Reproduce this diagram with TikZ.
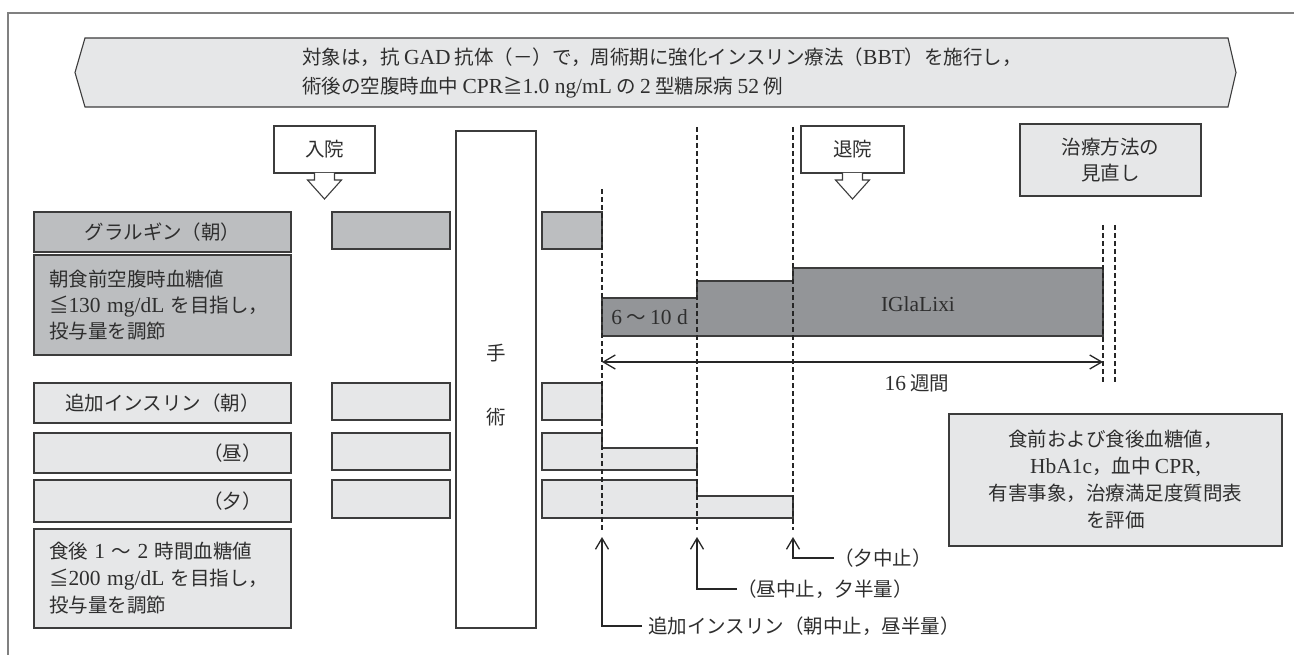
\documentclass[tikz,border=0pt]{standalone}
\usepackage{fontspec}
\setmainfont{Noto Sans CJK JP}
\newfontfamily\latf[Scale=1.1]{Liberation Serif}
\newcommand\ltn[1]{{\latf #1}}
\usetikzlibrary{arrows.meta,calc}
\definecolor{lightC}{HTML}{E6E7E8}
\definecolor{midC}{HTML}{BCBEC0}
\definecolor{darkC}{HTML}{939598}
\definecolor{lineC}{HTML}{3C3C3C}
\definecolor{txtC}{HTML}{2E2E2E}
\definecolor{frameC}{HTML}{808080}
\tikzset{
  bx/.style={draw=lineC, line width=1.1pt, inner sep=0pt, outer sep=0pt, anchor=north west},
  ltbox/.style={bx, fill=lightC},
  mdbox/.style={bx, fill=midC},
  whbox/.style={bx, fill=white},
  vdash/.style={draw=black!85, line width=1.4pt, dash pattern=on 5pt off 3pt},
  ann/.style={draw=black!85, line width=1.4pt, -{Straight Barb[length=11pt,width=13pt,line width=1.3pt]}},
  dbl/.style={draw=black!85, line width=1.4pt, {Straight Barb[length=12pt,width=14pt,line width=1.3pt]}-{Straight Barb[length=12pt,width=14pt,line width=1.3pt]}},
  callarrow/.style={draw=lineC, line width=1.1pt, fill=white},
}
\begin{document}
\begin{tikzpicture}[x=1pt,y=-1pt, font=\fontsize{19.5}{26}\selectfont, text=txtC]
\useasboundingbox (0,0) rectangle (1294,655);
% frame
\draw[frameC, line width=1.5pt] (8,655) -- (8,13) -- (1294,13);
% banner
\draw[lineC, line width=1.1pt, fill=lightC] (85,38) -- (1228,38) -- (1236,72.5) -- (1228,107) -- (85,107) -- (75,72.5) -- cycle;
\node[align=left, anchor=west, inner sep=0pt, font=\fontsize{19.5}{29}\selectfont] (banner) at (302,72.5)
 {対象は，抗 \ltn{GAD} 抗体（－）で，周術期に強化インスリン療法（\ltn{BBT}）を施行し，\\術後の空腹時血中 \ltn{CPR}≧\ltn{1.0 ng/mL} の \ltn{2} 型糖尿病 \ltn{52} 例};

% callouts
\node[whbox, minimum width=101, minimum height=47] (nyuin) at (274,126) {入院};
\draw[callarrow] ([xshift=-10pt]nyuin.south) -- ++(0,7) -- ++(-7,0) -- ++(17,19) -- ++(17,-19) -- ++(-7,0) -- ++(0,-7);
\node[whbox, minimum width=103, minimum height=47] (taiin) at (801,126) {退院};
\draw[callarrow] ([xshift=-10pt]taiin.south) -- ++(0,7) -- ++(-7,0) -- ++(17,19) -- ++(17,-19) -- ++(-7,0) -- ++(0,-7);
\node[ltbox, minimum width=181, minimum height=72, align=center, font=\fontsize{19.5}{26}\selectfont] (review) at (1020,124) {治療方法の\\見直し};

% surgery box
\node[whbox, minimum width=80, minimum height=497] (surg) at (456,131) {};
\node[align=center, font=\fontsize{19.5}{64}\selectfont] (surgtxt) at (496,385) {手\\術};

% glargine row
\node[mdbox, minimum width=257, minimum height=40] (glarL) at (34,212) {グラルギン（朝）};
\node[mdbox, minimum width=118, minimum height=37] (glar2) at (332,212) {};
\node[mdbox, minimum width=60, minimum height=37] (glar3) at (542,212) {};
\node[mdbox, minimum width=257, minimum height=100, text width=227, align=left, font=\fontsize{19.5}{26}\selectfont] (glarT) at (34,255)
 {朝食前空腹時血糖値\\≦\ltn{130 mg/dL} を目指し，\\投与量を調節};

% IGlaLixi steps
\draw[lineC, line width=1.1pt, fill=darkC] (602,298) -- (697,298) -- (697,281) -- (793,281) -- (793,268) -- (1103,268) -- (1103,336) -- (602,336) -- cycle;
\node (d610) at (649.5,317) {\ltn{6} 〜 \ltn{10 d}};
\node (igla) at (918,304) {\ltn{IGlaLixi}};

% bolus rows
\node[ltbox, minimum width=257, minimum height=40] (bolA) at (34,383) {追加インスリン（朝）};
\node[ltbox, minimum width=118, minimum height=37] (bolA2) at (332,383) {};
\node[ltbox, minimum width=60, minimum height=37] (bolA3) at (542,383) {};
\node[ltbox, minimum width=257, minimum height=40] (bolB) at (34,433) {};
\node[anchor=east, inner sep=0pt] (bolBt) at (262,453) {（昼）};
\node[ltbox, minimum width=118, minimum height=37] (bolB2) at (332,433) {};
\draw[lineC, line width=1.1pt, fill=lightC] (542,433) -- (602,433) -- (602,448) -- (697,448) -- (697,470) -- (542,470) -- cycle;
\node[ltbox, minimum width=257, minimum height=42] (bolC) at (34,480) {};
\node[anchor=east, inner sep=0pt] (bolCt) at (262,501) {（夕）};
\node[ltbox, minimum width=118, minimum height=38] (bolC2) at (332,480) {};
\draw[lineC, line width=1.1pt, fill=lightC] (542,480) -- (697,480) -- (697,496) -- (793,496) -- (793,518) -- (542,518) -- cycle;
\node[ltbox, minimum width=257, minimum height=99, text width=227, align=left, font=\fontsize{19.5}{27}\selectfont] (bolT) at (34,529)
 {食後 \ltn{1} 〜 \ltn{2} 時間血糖値\\≦\ltn{200 mg/dL} を目指し，\\投与量を調節};

% dashed time lines
\draw[vdash] (602,189) -- (602,530);
\draw[vdash] (697,127) -- (697,530);
\draw[vdash] (793,127) -- (793,530);
\draw[vdash] (1103,225) -- (1103,384);
\draw[vdash] (1115,225) -- (1115,384);

% 16 weeks
\coordinate (w0) at (602,362);
\coordinate (w1) at (1103,362);
\draw[dbl] (w0) -- (w1);
\node (w16) at (917,383) {\ltn{16} 週間};

% evaluation box
\node[ltbox, minimum width=333, minimum height=132, align=center, font=\fontsize{19.5}{27}\selectfont] (eval) at (949,414)
 {食前および食後血糖値，\\\ltn{HbA1c}，血中 \ltn{CPR,}\\有害事象，治療満足度質問表\\を評価};

% annotations
\coordinate (t1) at (602,537);
\coordinate (t2) at (697,537);
\coordinate (t3) at (793,537);
\node[anchor=west, inner sep=0pt] (lab1) at (648,626) {追加インスリン（朝中止，昼半量）};
\node[anchor=west, inner sep=0pt] (lab2) at (737,589) {（昼中止，夕半量）};
\node[anchor=west, inner sep=0pt] (lab3) at (834,558) {（夕中止）};
\draw[ann] ([xshift=-6pt]lab1.west) -| (t1);
\draw[ann] (lab2.west) -| (t2);
\draw[ann] (lab3.west) -| (t3);
\end{tikzpicture}
\end{document}
